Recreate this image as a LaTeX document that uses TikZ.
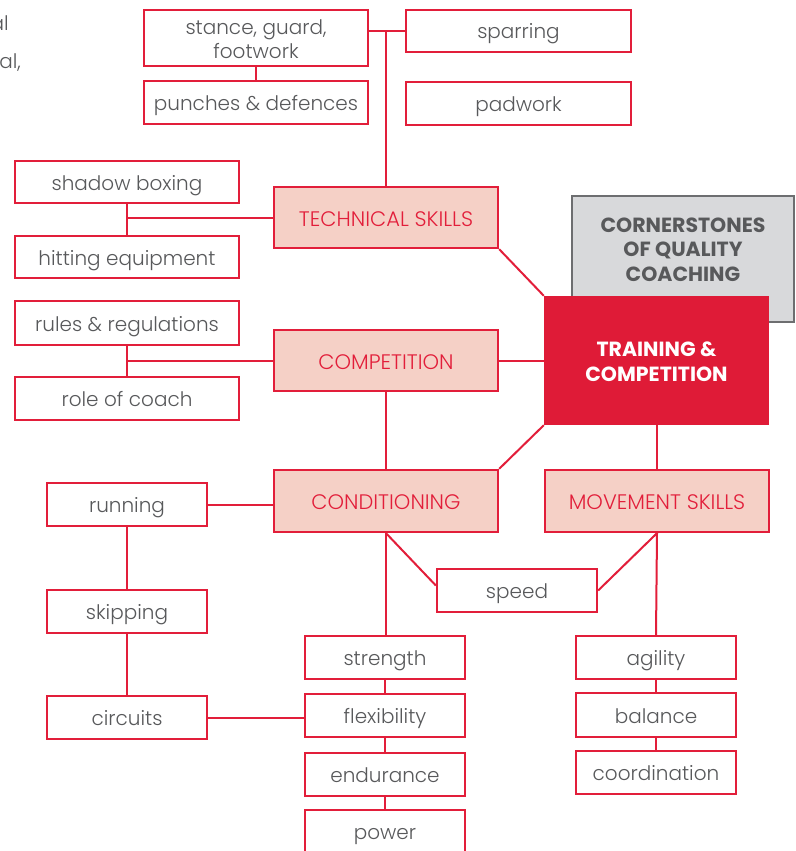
\documentclass[tikz,border=0pt]{standalone}
\usepackage{fontspec}
\setmainfont{Poppins}
\newfontfamily\lightfont{Poppins Light}
\definecolor{myred}{RGB}{226,30,58}
\definecolor{mypink}{RGB}{245,208,198}
\definecolor{mygray}{RGB}{88,89,91}
\definecolor{hubred}{RGB}{223,27,55}
\definecolor{csfill}{RGB}{216,217,219}
\definecolor{csline}{RGB}{109,110,112}
\tikzset{
  leaf/.style={draw=myred, line width=2.3pt, fill=white, text=mygray, inner sep=0pt, align=center,
    text height=16pt, text depth=0pt, font=\lightfont\fontsize{20}{24}\selectfont},
  cat/.style={leaf, fill=mypink, text=myred, text height=17pt, font=\lightfont\fontsize{21}{24}\selectfont},
  hub/.style={fill=hubred, draw=none, text=white, inner sep=0pt, align=center,
    text height=41pt, text depth=0pt, font=\fontsize{20.5}{25}\selectfont\bfseries},
  cs/.style={fill=csfill, draw=csline, line width=2.2pt, text=mygray, inner sep=0pt, align=center,
    text height=44pt, text depth=0pt, font=\fontsize{20.5}{24.5}\selectfont\bfseries},
  link/.style={draw=myred, line width=2pt},
  partial/.style={text=mygray, inner sep=0pt, font=\lightfont\fontsize{20}{24}\selectfont}
}
\begin{document}
\begin{tikzpicture}[x=1pt, y=-1pt]
\useasboundingbox (0,0) rectangle (795,851);
\clip (0,0) rectangle (795,851);
\node[partial, anchor=base east] (p1) at (9,31) {al};
\node[partial, anchor=base east] (p2) at (21,68) {al,};
% top
\node[leaf, minimum width=224pt, minimum height=56pt, text height=42pt] (stance) at (256,38) {stance, guard,\\footwork};
\node[leaf, minimum width=224pt, minimum height=43pt] (punch) at (256,102.5) {punches \& defences};
\node[leaf, minimum width=225pt, minimum height=42pt] (spar) at (518.5,31) {sparring};
\node[leaf, minimum width=225pt, minimum height=43pt] (pad) at (518.5,103.5) {padwork};
\node[leaf, minimum width=224pt, minimum height=42pt] (shadow) at (127,182) {shadow boxing};
\node[leaf, minimum width=224pt, minimum height=42pt] (hit) at (127,257) {hitting equipment};
\node[cat, minimum width=224pt, minimum height=61pt] (tech) at (386,217.5) {TECHNICAL SKILLS};
% hub
\node[cs, minimum width=222pt, minimum height=126pt] (cs) at (683,259) {CORNERSTONES\\OF QUALITY\\COACHING};
\node[hub, minimum width=225pt, minimum height=129pt] (hub) at (656.5,360.5) {TRAINING \&\\COMPETITION};
% competition
\node[leaf, minimum width=224pt, minimum height=44pt] (rules) at (127,323) {rules \& regulations};
\node[leaf, minimum width=224pt, minimum height=43pt] (role) at (127,398.5) {role of coach};
\node[cat, minimum width=224pt, minimum height=61pt] (comp) at (386,360.5) {COMPETITION};
% conditioning
\node[cat, minimum width=224pt, minimum height=62pt] (cond) at (386,501) {CONDITIONING};
\node[cat, minimum width=224pt, minimum height=62pt] (move) at (657,501) {MOVEMENT SKILLS};
\node[leaf, minimum width=160pt, minimum height=43pt] (run) at (127,504.5) {running};
\node[leaf, minimum width=160pt, minimum height=43pt] (skip) at (127,611.5) {skipping};
\node[leaf, minimum width=160pt, minimum height=43pt] (circ) at (127,717.5) {circuits};
\node[leaf, minimum width=160pt, minimum height=43pt] (speed) at (517,590.5) {speed};
\node[leaf, minimum width=160pt, minimum height=43pt] (str) at (385,657.5) {strength};
\node[leaf, minimum width=160pt, minimum height=43pt] (flex) at (385,715.5) {flexibility};
\node[leaf, minimum width=160pt, minimum height=43pt] (endu) at (385,774.5) {endurance};
\node[leaf, minimum width=160pt, minimum height=60pt, text depth=18pt] (pow) at (385,840) {power};
\node[leaf, minimum width=160pt, minimum height=43pt] (agil) at (656,657.5) {agility};
\node[leaf, minimum width=160pt, minimum height=44pt] (bal) at (656,715) {balance};
\node[leaf, minimum width=160pt, minimum height=43pt] (coord) at (656,772.5) {coordination};
% connectors
\path[link] (spar.west) -- (spar.west -| stance.east);
\path[link] (tech.north) -- (tech.north |- spar.west);
\path[link] (stance.south) -- (punch.north);
\path[link] (shadow.south) -- (hit.north);
\path[link] (tech.west) -- (tech.west -| shadow.south);
\path[link] (tech.south east) -- (hub.north west);
\path[link] (rules.south) -- (role.north);
\path[link] (comp.west) -- (comp.west -| rules.south);
\path[link] (comp.east) -- (comp.east -| hub.west);
\path[link] (comp.south) -- (cond.north);
\path[link] (hub.south west) -- (cond.north east);
\path[link] (hub.south) -- (hub.south |- move.north);
\path[link] (run.east) -- (run.east -| cond.west);
\path[link] (run.south) -- (skip.north);
\path[link] (skip.south) -- (circ.north);
\path[link] (circ.east) -- (circ.east -| flex.west);
\path[link] (cond.south) -- (cond.south |- str.north);
\path[link] (str.south) -- (flex.north);
\path[link] (flex.south) -- (endu.north);
\path[link] (endu.south) -- (pow.north);
\path[link] (cond.south) -- ([yshift=5pt]speed.west);
\path[link] (move.south) -- (speed.east);
\path[link] (move.south) -- (agil.north);
\path[link] (agil.south) -- (bal.north);
\path[link] (bal.south) -- (coord.north);
\end{tikzpicture}
\end{document}
